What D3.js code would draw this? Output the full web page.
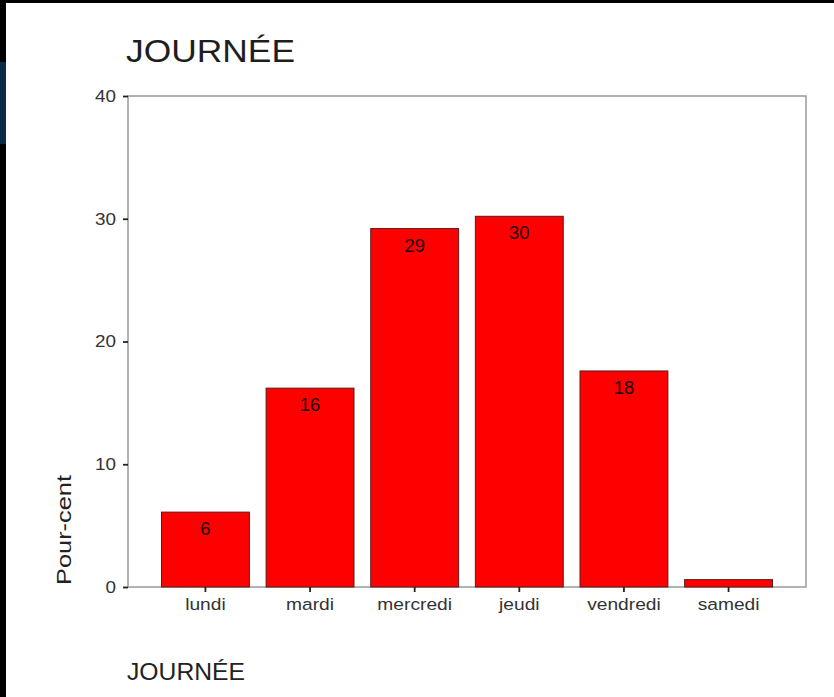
<!DOCTYPE html>
<html>
<head>
<meta charset="utf-8">
<script src="https://cdn.jsdelivr.net/npm/d3@7"></script>
<style>
  html, body { margin: 0; padding: 0; background: #000; }
  svg { display: block; font-family: "Liberation Sans", Arial, sans-serif; }
</style>
</head>
<body>
<svg id="chart" width="834" height="697"></svg>
<script>
// data
const days = ['lundi', 'mardi', 'mercredi', 'jeudi', 'vendredi', 'samedi'];
const percents = [6.1, 16.2, 29.2, 30.2, 17.6, 0.6];
const barLabels = ['6', '16', '29', '30', '18', ''];
const yTicks = [0, 10, 20, 30, 40];

const width = 834;
const height = 697;
const plot = { left: 128, right: 806, top: 96, bottom: 587 };

const svg = d3.select('#chart');

// slide background: white page with black frame on top/left
svg.append('rect').attr('width', width).attr('height', height).attr('fill', '#000');
svg.append('rect').attr('x', 0).attr('y', 62).attr('width', 6).attr('height', 82).attr('fill', '#0b2a45');
svg.append('rect').attr('x', 6).attr('y', 3).attr('width', width - 6).attr('height', height - 3).attr('fill', '#fff');

const x = d3.scaleBand()
  .domain(days)
  .range([plot.left, plot.right])
  .paddingInner(0.16)
  .paddingOuter(0.32);

const y = d3.scaleLinear()
  .domain([0, 40])
  .range([plot.bottom, plot.top]);

// plot frame
svg.append('rect')
  .attr('x', plot.left)
  .attr('y', plot.top)
  .attr('width', plot.right - plot.left)
  .attr('height', plot.bottom - plot.top)
  .attr('fill', 'none')
  .attr('stroke', '#9a9a9a')
  .attr('stroke-width', 1.5);

// bars
svg.selectAll('rect.bar')
  .data(days)
  .enter()
  .append('rect')
  .attr('class', 'bar')
  .attr('x', d => x(d))
  .attr('y', (d, i) => y(percents[i]))
  .attr('width', x.bandwidth())
  .attr('height', (d, i) => plot.bottom - y(percents[i]))
  .attr('fill', '#ff0000')
  .attr('stroke', '#5a1a1a')
  .attr('stroke-width', 1);

// value labels inside bars
svg.selectAll('text.val')
  .data(days)
  .enter()
  .append('text')
  .attr('class', 'val')
  .attr('transform', (d, i) => `translate(${x(d) + x.bandwidth() / 2},${y(percents[i]) + 23}) scale(1.05,1)`)
  .attr('text-anchor', 'middle')
  .attr('font-size', 17.5)
  .attr('fill', '#1a0000')
  .text((d, i) => barLabels[i]);

// y axis
const yAxis = svg.append('g')
  .attr('transform', `translate(${plot.left},0)`)
  .call(d3.axisLeft(y).tickValues(yTicks).tickSize(5).tickPadding(5));
yAxis.select('.domain').remove();
yAxis.selectAll('.tick line').attr('stroke', '#222').attr('stroke-width', 1.8);
yAxis.selectAll('.tick text')
  .attr('font-size', 17)
  .attr('fill', '#333')
  .attr('font-family', '"Liberation Sans", Arial, sans-serif')
  .attr('transform', 'translate(-2,0)')
  .attr('textLength', d => String(d).length * 10.5)
  .attr('lengthAdjust', 'spacingAndGlyphs');

// x axis
const xAxis = svg.append('g')
  .attr('transform', `translate(0,${plot.bottom})`)
  .call(d3.axisBottom(x).tickSize(5).tickPadding(6));
xAxis.select('.domain').remove();
xAxis.selectAll('.tick line').attr('stroke', '#222').attr('stroke-width', 1.8);
xAxis.selectAll('.tick text')
  .attr('font-size', 17)
  .attr('fill', '#333')
  .attr('font-family', '"Liberation Sans", Arial, sans-serif')
  .attr('text-anchor', 'middle')
  .attr('transform', 'scale(1.13,1)');

// titles
svg.append('text')
  .attr('x', 126)
  .attr('y', 62)
  .attr('font-size', 31)
  .attr('fill', '#1e1e1e')
  .attr('textLength', 169)
  .attr('lengthAdjust', 'spacingAndGlyphs')
  .text('JOURNÉE');

svg.append('text')
  .attr('x', 127)
  .attr('y', 680)
  .attr('font-size', 23)
  .attr('fill', '#222')
  .attr('textLength', 118)
  .attr('lengthAdjust', 'spacingAndGlyphs')
  .text('JOURNÉE');

svg.append('text')
  .attr('transform', 'translate(71,530) rotate(-90)')
  .attr('text-anchor', 'middle')
  .attr('font-size', 21)
  .attr('fill', '#222')
  .attr('textLength', 110)
  .attr('lengthAdjust', 'spacingAndGlyphs')
  .text('Pour-cent');
</script>
</body>
</html>
